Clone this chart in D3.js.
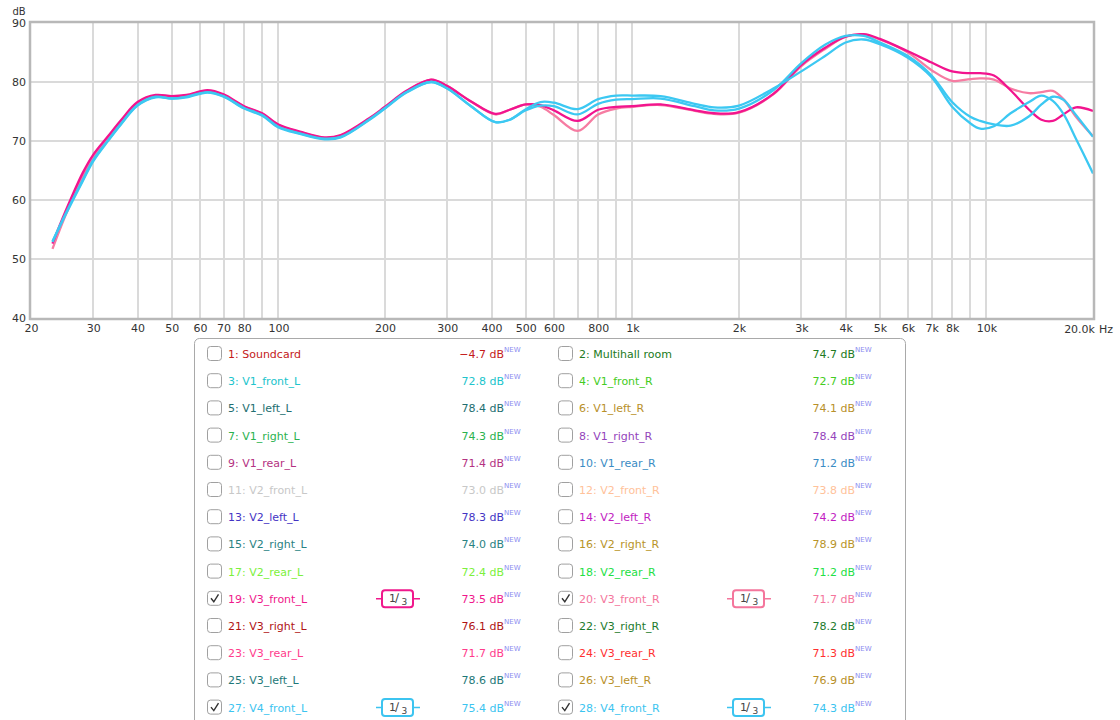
<!DOCTYPE html>
<html>
<head>
<meta charset="utf-8">
<script src="https://cdn.jsdelivr.net/npm/d3@7"></script>
<style>
  body { margin: 0; background: #fff; }
  svg { display: block; font-family: "DejaVu Sans", Verdana, sans-serif; }
</style>
</head>
<body>
<div id="chart"></div>
<script>
// Frequency points (Hz) shared by all curves
const freqs = [23, 25, 28, 30, 33, 36, 40, 45, 50, 55, 63, 70, 80, 90, 100, 115, 135, 150, 180, 200,
  230, 270, 300, 350, 410, 450, 500, 550, 600, 700, 800, 900, 1000, 1200, 1500, 1700, 2000, 2500,
  3000, 3500, 4000, 4500, 5000, 6000, 7000, 8000, 9000, 9600, 10500, 11700, 13200, 14300, 15400,
  16500, 17900, 20000];

// dB values per visible measurement (1/3 octave smoothed)
const v3FrontL = [52.6, 58.0, 64.6, 67.7, 70.8, 73.6, 76.6, 77.8, 77.6, 77.8, 78.6, 77.9, 75.9, 74.7, 72.8, 71.6, 70.6, 71.0, 73.8, 75.8,
  78.5, 80.4, 79.3, 76.7, 74.6, 75.3, 76.2, 76.1, 75.2, 73.4, 75.3, 75.8, 75.9, 76.2, 75.2, 74.7, 74.9, 78.0,
  82.9, 85.8, 87.7, 88.1, 87.3, 85.2, 83.3, 81.8, 81.5, 81.5, 81.1, 78.6, 75.3, 73.6, 73.4, 74.5, 75.7, 75.1];
const v3FrontR = [51.7, 57.3, 64.0, 67.2, 70.5, 73.3, 76.4, 77.7, 77.5, 77.7, 78.5, 77.8, 75.8, 74.6, 72.7, 71.5, 70.5, 70.9, 73.7, 75.7,
  78.4, 80.4, 79.3, 76.7, 74.5, 75.3, 76.2, 75.8, 74.4, 71.7, 74.5, 75.5, 75.8, 76.1, 75.1, 74.6, 74.8, 77.9,
  82.7, 85.6, 87.7, 88.0, 87.2, 85.0, 82.0, 80.2, 80.5, 80.6, 80.4, 78.9, 78.1, 78.3, 78.5, 77.1, 74.1, 70.8];
const v4FrontL = [52.9, 57.4, 63.2, 66.6, 70.0, 72.9, 76.0, 77.4, 77.2, 77.4, 78.2, 77.5, 75.5, 74.3, 72.3, 71.2, 70.3, 70.6, 73.5, 75.5,
  78.2, 80.0, 78.9, 75.9, 73.2, 73.6, 75.4, 76.6, 76.5, 75.4, 77.1, 77.7, 77.7, 77.6, 76.3, 75.7, 76.0, 78.9,
  81.8, 84.4, 86.7, 87.2, 86.4, 84.1, 80.8, 75.8, 73.0, 72.1, 72.5, 74.7, 76.6, 77.7, 76.8, 74.6, 70.4, 64.5];
const v4FrontR = [53.0, 57.6, 63.4, 66.8, 70.1, 73.0, 76.1, 77.5, 77.2, 77.5, 78.3, 77.6, 75.6, 74.4, 72.4, 71.3, 70.4, 70.7, 73.6, 75.6,
  78.3, 80.0, 78.9, 75.9, 73.2, 73.6, 75.2, 76.0, 75.9, 74.5, 76.3, 77.0, 77.1, 77.2, 75.9, 75.2, 75.5, 78.6,
  83.2, 86.3, 87.8, 87.8, 86.7, 84.4, 81.1, 76.6, 74.1, 73.4, 72.8, 72.6, 74.2, 76.2, 77.5, 77.0, 74.4, 70.7];

// Axis ticks
const xGrid = [30, 40, 50, 60, 70, 80, 90, 100, 200, 300, 400, 500, 600, 700, 800, 900,
  1000, 2000, 3000, 4000, 5000, 6000, 7000, 8000, 9000, 10000];
const xTickValues = [20, 30, 40, 50, 60, 70, 80, 100, 200, 300, 400, 500, 600, 800, 1000,
  2000, 3000, 4000, 5000, 6000, 7000, 8000, 10000];
const xTickLabels = ["20", "30", "40", "50", "60", "70", "80", "100", "200", "300", "400", "500", "600", "800", "1k",
  "2k", "3k", "4k", "5k", "6k", "7k", "8k", "10k"];
const yTicks = [40, 50, 60, 70, 80, 90];

// Legend entries
const legendNames = ["1: Soundcard", "2: Multihall room", "3: V1_front_L", "4: V1_front_R", "5: V1_left_L", "6: V1_left_R",
  "7: V1_right_L", "8: V1_right_R", "9: V1_rear_L", "10: V1_rear_R", "11: V2_front_L", "12: V2_front_R",
  "13: V2_left_L", "14: V2_left_R", "15: V2_right_L", "16: V2_right_R", "17: V2_rear_L", "18: V2_rear_R",
  "19: V3_front_L", "20: V3_front_R", "21: V3_right_L", "22: V3_right_R", "23: V3_rear_L", "24: V3_rear_R",
  "25: V3_left_L", "26: V3_left_R", "27: V4_front_L", "28: V4_front_R"];
const legendValues = ["\u22124.7", "74.7", "72.8", "72.7", "78.4", "74.1", "74.3", "78.4", "71.4", "71.2", "73.0", "73.8",
  "78.3", "74.2", "74.0", "78.9", "72.4", "71.2", "73.5", "71.7", "76.1", "78.2", "71.7", "71.3",
  "78.6", "76.9", "75.4", "74.3"];
const legendColors = ["#c41a1a", "#217a21", "#20c4cc", "#44cc22", "#226e70", "#b8902a", "#2ab24e", "#9444bb",
  "#b43282", "#3a8cc4", "#c8c8c8", "#ffc29a", "#4434c4", "#c21cc2", "#2a8282", "#b89428", "#7cf03c", "#22e044",
  "#f0188c", "#f4769c", "#b01414", "#1c7a2c", "#ff3c8c", "#ff3030", "#1e7878", "#b89028", "#3cc4f0", "#3cc4f0"];
const checkedIdx = [18, 19, 26, 27];

const width = 1120, height = 720;
const plot = { left: 31, right: 1093, top: 23, bottom: 318 };

const svg = d3.select("#chart").append("svg")
  .attr("width", width)
  .attr("height", height);

const x = d3.scaleLog().domain([20, 20000]).range([plot.left, plot.right]);
const y = d3.scaleLinear().domain([40, 90]).range([plot.bottom, plot.top]);

// Plot background
svg.append("rect")
  .attr("x", plot.left).attr("y", plot.top)
  .attr("width", plot.right - plot.left).attr("height", plot.bottom - plot.top)
  .attr("fill", "#fff");

// Grid lines
svg.append("g").selectAll("line")
  .data(xGrid)
  .enter().append("line")
  .attr("x1", d => Math.round(x(d))).attr("x2", d => Math.round(x(d)))
  .attr("y1", plot.top).attr("y2", plot.bottom)
  .attr("stroke", "#dadada")
  .attr("stroke-width", 2);

svg.append("g").selectAll("line")
  .data(yTicks.slice(1, -1))
  .enter().append("line")
  .attr("x1", plot.left).attr("x2", plot.right)
  .attr("y1", d => Math.round(y(d))).attr("y2", d => Math.round(y(d)))
  .attr("stroke", "#dadada")
  .attr("stroke-width", 2);

// Curves
svg.append("clipPath").attr("id", "clip")
  .append("rect")
  .attr("x", plot.left).attr("y", plot.top)
  .attr("width", plot.right - plot.left).attr("height", plot.bottom - plot.top);

const series = [
  { values: v3FrontR, color: "#f67ca2" },
  { values: v3FrontL, color: "#f2148e" },
  { values: v4FrontL, color: "#3cc8f2" },
  { values: v4FrontR, color: "#3cc8f2" }
];

const line = d3.line()
  .x(d => x(d[0]))
  .y(d => y(d[1]))
  .curve(d3.curveCatmullRom.alpha(0.5));

svg.append("g").attr("clip-path", "url(#clip)")
  .selectAll("path")
  .data(series)
  .enter().append("path")
  .attr("d", s => line(freqs.map((f, i) => [f, s.values[i]])))
  .attr("fill", "none")
  .attr("stroke", s => s.color)
  .attr("stroke-width", 2.3)
  .attr("stroke-linejoin", "round");

// Frame
svg.append("rect")
  .attr("x", plot.left - 1).attr("y", plot.top - 1)
  .attr("width", plot.right - plot.left + 2).attr("height", plot.bottom - plot.top + 2)
  .attr("fill", "none")
  .attr("stroke", "#b8b8b8")
  .attr("stroke-width", 2.5);

// X axis labels
const xAxis = d3.axisBottom(x)
  .tickValues(xTickValues)
  .tickFormat((d, i) => xTickLabels[i])
  .tickSize(0)
  .tickPadding(5);

const gx = svg.append("g")
  .attr("transform", `translate(0,${plot.bottom + 1})`)
  .call(xAxis);
gx.select(".domain").remove();
gx.selectAll("text")
  .attr("font-family", "DejaVu Sans, sans-serif")
  .attr("font-size", 11)
  .attr("fill", "#333");

svg.append("text")
  .attr("x", plot.right + 2).attr("y", plot.bottom + 15)
  .attr("text-anchor", "end")
  .attr("font-size", 11).attr("fill", "#333")
  .text("20.0k");
svg.append("text")
  .attr("x", plot.right + 6).attr("y", plot.bottom + 15)
  .attr("font-size", 11).attr("fill", "#333")
  .text("Hz");

// Y axis labels
const yAxis = d3.axisLeft(y)
  .tickValues(yTicks)
  .tickSize(0)
  .tickPadding(5);
const gy = svg.append("g")
  .attr("transform", `translate(${plot.left},0)`)
  .call(yAxis);
gy.select(".domain").remove();
gy.selectAll("text")
  .attr("font-family", "DejaVu Sans, sans-serif")
  .attr("font-size", 11)
  .attr("fill", "#333");

svg.append("text")
  .attr("x", 19).attr("y", 15)
  .attr("text-anchor", "middle")
  .attr("font-size", 10).attr("fill", "#333")
  .text("dB");

// Legend panel
const legend = svg.append("g");
legend.append("rect")
  .attr("x", 194.5).attr("y", 338.5)
  .attr("width", 711).attr("height", 420)
  .attr("rx", 5)
  .attr("fill", "#fff")
  .attr("stroke", "#a9a9a9");

const rowY = i => 354 + Math.floor(i / 2) * 27.2;
const colX = i => (i % 2 === 0 ? 0 : 351);

const items = legend.selectAll("g.item")
  .data(legendNames)
  .enter().append("g")
  .attr("class", "item")
  .attr("transform", (d, i) => `translate(${colX(i)},${rowY(i)})`);

items.append("rect")
  .attr("x", 207.5).attr("y", -7.5)
  .attr("width", 14).attr("height", 14)
  .attr("rx", 3)
  .attr("fill", "#fff")
  .attr("stroke", "#a0a0a0");

items.filter((d, i) => checkedIdx.includes(i))
  .append("path")
  .attr("d", "M211,-0.5 L213.8,3 L218.5,-4.5")
  .attr("fill", "none")
  .attr("stroke", "#333")
  .attr("stroke-width", 1.4);

items.append("text")
  .attr("x", 228).attr("y", 4)
  .attr("font-size", 11)
  .attr("fill", (d, i) => legendColors[i])
  .text(d => d);

items.append("text")
  .attr("x", 504).attr("y", 4)
  .attr("text-anchor", "end")
  .attr("font-size", 11)
  .attr("fill", (d, i) => legendColors[i])
  .text((d, i) => legendValues[i] + " dB");

items.append("text")
  .attr("x", 504).attr("y", -2)
  .attr("font-size", 7)
  .attr("fill", "#8c8cf0")
  .text("NEW");

// 1/3 octave smoothing badges
const badges = items.filter((d, i) => checkedIdx.includes(i));
badges.append("line")
  .attr("x1", 376).attr("x2", 420)
  .attr("y1", 0).attr("y2", 0)
  .attr("stroke", (d, i) => legendColors[checkedIdx[i]])
  .attr("stroke-width", 1.5);
badges.append("rect")
  .attr("x", 382).attr("y", -8.5)
  .attr("width", 31).attr("height", 17)
  .attr("rx", 3)
  .attr("fill", "#fff")
  .attr("stroke", (d, i) => legendColors[checkedIdx[i]])
  .attr("stroke-width", 2);
const frac = badges.append("text")
  .attr("y", 3)
  .attr("fill", "#444");
frac.append("tspan").attr("x", 389).attr("font-size", 11).text("1");
frac.append("tspan").attr("x", 395).attr("dy", 0).attr("font-size", 12).text("\u2215");
frac.append("tspan").attr("x", 401.5).attr("dy", 3).attr("font-size", 9).text("3");
</script>
</body>
</html>
